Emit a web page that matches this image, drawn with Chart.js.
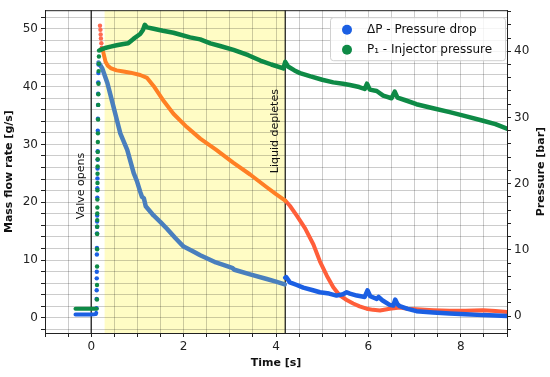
<!DOCTYPE html>
<html>
<head>
<meta charset="utf-8">
<script src="https://cdn.jsdelivr.net/npm/chart.js@4.4.0/dist/chart.umd.min.js"></script>
<style>
  html, body { margin: 0; padding: 0; background: #fff; }
  #chart { display: block; }
</style>
</head>
<body>
<canvas id="chart" width="550" height="377"></canvas>
<script>
// ticks (minor every 0.5 s / 2 units, labels on the major ones)
const timeTicks = [-1, -0.5, 0, 0.5, 1, 1.5, 2, 2.5, 3, 3.5, 4, 4.5, 5, 5.5, 6, 6.5, 7, 7.5, 8, 8.5, 9];
const timeLabels = [0, 2, 4, 6, 8];
const flowTicks = [-2, 0, 2, 4, 6, 8, 10, 12, 14, 16, 18, 20, 22, 24, 26, 28, 30, 32, 34, 36, 38, 40, 42, 44, 46, 48, 50, 52];
const flowLabels = [0, 10, 20, 30, 40, 50];
const pressureTicks = [-2, 0, 2, 4, 6, 8, 10, 12, 14, 16, 18, 20, 22, 24, 26, 28, 30, 32, 34, 36, 38, 40, 42, 44, 46];
const pressureLabels = [0, 10, 20, 30, 40];

// events
const eventTimes = [0, 4.2];
const eventLabels = ['Valve opens', 'Liquid depletes'];
const eventLabelY = [22.8, 32.3]; // where the rotated text sits, in g/s
const liquidStart = 0.29;
const liquidEnd = 4.2;

const seriesNames = ['ΔP - Pressure drop', 'P₁ - Injector pressure'];

// mass flow rate [g/s]
const flowDotT = [0.19, 0.20, 0.205, 0.21, 0.22, 0.23];
const flowDotV = [50.5, 49.8, 49.0, 48.3, 47.5, 46.7];
const flowT = [0.25, 0.31, 0.36, 0.42, 0.55, 0.70, 0.85, 1.06, 1.21, 1.35, 1.57, 1.78, 2.07, 2.36, 2.70, 3.08, 3.44, 3.80, 4.00, 4.20];
const flowV = [46.3, 44.3, 43.6, 43.2, 42.8, 42.6, 42.4, 42.0, 41.5, 40.1, 37.5, 35.3, 33.0, 31.0, 29.1, 26.8, 24.8, 22.6, 21.4, 20.3];
const flowLateT = [4.20, 4.30, 4.45, 4.63, 4.81, 4.95, 5.10, 5.24, 5.38, 5.53, 5.67, 5.81, 5.96, 6.10, 6.25, 6.46, 6.68, 6.85, 7.04, 7.40, 7.76, 8.10, 8.48, 8.75, 9.00];
const flowLateV = [20.3, 19.4, 17.7, 15.5, 12.7, 9.8, 7.3, 5.3, 3.9, 3.1, 2.5, 2.0, 1.6, 1.4, 1.3, 1.6, 1.8, 1.6, 1.5, 1.35, 1.25, 1.25, 1.35, 1.2, 1.05];

// pressure drop [bar]
const dpPreT = [-0.34, 0.00, 0.10, 0.11];
const dpPreV = [0.25, 0.25, 0.3, 0.5];
const dpDotT = [0.115, 0.117, 0.119, 0.12, 0.121, 0.123, 0.124, 0.126, 0.127, 0.128, 0.129, 0.132, 0.133, 0.135, 0.137, 0.139, 0.14, 0.143, 0.145, 0.148, 0.15, 0.153, 0.155, 0.158];
const dpDotV = [1.2, 2.6, 3.9, 5.7, 6.7, 9.3, 10.3, 12.5, 13.5, 14.3, 15.2, 17.9, 19.3, 20.8, 22.3, 23.6, 24.9, 28.0, 29.8, 31.9, 33.6, 35.3, 36.7, 38.0];
const dpT = [0.16, 0.24, 0.35, 0.45, 0.56, 0.63, 0.78, 0.92, 0.99, 1.06, 1.10, 1.14, 1.18, 1.35, 1.50, 1.64, 1.82, 2.00, 2.20, 2.36, 2.70, 3.05, 3.10, 3.44, 3.80, 4.00, 4.19];
const dpV = [38.3, 37.4, 35.2, 32.5, 29.5, 27.6, 25.1, 21.6, 20.4, 18.8, 18.0, 17.8, 16.6, 15.2, 14.2, 13.2, 11.8, 10.5, 9.8, 9.2, 8.1, 7.3, 7.0, 6.3, 5.6, 5.2, 4.8];
const dpLateT = [4.20, 4.22, 4.30, 4.45, 4.59, 4.80, 4.95, 5.15, 5.31, 5.45, 5.53, 5.60, 5.75, 5.92, 5.98, 6.04, 6.18, 6.22, 6.30, 6.46, 6.54, 6.58, 6.63, 6.68, 6.85, 7.04, 7.40, 7.76, 8.10, 8.48, 8.75, 9.00];
const dpLateV = [5.8, 5.9, 5.1, 4.7, 4.3, 3.9, 3.6, 3.4, 3.1, 3.3, 3.6, 3.4, 3.1, 2.9, 3.9, 3.0, 2.6, 2.9, 2.4, 1.7, 1.6, 2.5, 1.8, 1.5, 1.1, 0.75, 0.55, 0.4, 0.3, 0.15, 0.1, 0.0];

// injector pressure [bar]
const p1PreT = [-0.34, 0.00, 0.12];
const p1PreV = [1.1, 1.1, 1.1];
const p1DotT = [0.125, 0.126, 0.127, 0.128, 0.129, 0.13, 0.131, 0.132, 0.133, 0.134, 0.135, 0.136, 0.137, 0.139, 0.14, 0.142, 0.144, 0.146, 0.149, 0.152, 0.155, 0.158, 0.161, 0.164, 0.167, 0.17];
const p1DotV = [2.5, 4.7, 7.5, 10.1, 12.4, 13.5, 14.5, 15.5, 16.4, 17.6, 19.0, 20.1, 21.5, 22.6, 23.7, 24.8, 26.3, 27.6, 29.7, 31.9, 33.5, 35.1, 37.0, 38.1, 39.2, 40.1];
const p1T = [0.20, 0.30, 0.42, 0.55, 0.70, 0.80, 0.92, 1.06, 1.12, 1.16, 1.21, 1.35, 1.55, 1.78, 2.14, 2.36, 2.58, 2.79, 3.08, 3.40, 3.66, 3.90, 4.16, 4.20, 4.26, 4.40, 4.52, 4.75, 5.00, 5.24, 5.45, 5.60, 5.80, 5.92, 5.97, 6.03, 6.18, 6.32, 6.50, 6.57, 6.63, 6.80, 7.04, 7.40, 7.76, 8.10, 8.48, 8.75, 9.00];
const p1V = [40.2, 40.5, 40.7, 40.9, 41.1, 41.2, 41.9, 42.6, 43.2, 44.0, 43.6, 43.4, 43.1, 42.8, 42.1, 41.8, 41.2, 40.8, 40.2, 39.4, 38.6, 38.0, 37.4, 38.4, 37.7, 37.1, 36.7, 36.2, 35.7, 35.3, 35.1, 34.9, 34.6, 34.3, 35.1, 34.2, 34.0, 33.3, 32.9, 33.9, 33.0, 32.6, 32.0, 31.4, 30.8, 30.2, 29.5, 29.0, 28.3];

const GREEN = '#0e8a46';
const STEEL = '#4a7fbd';
const BLUE = '#1b5fe3';
const ORANGE = '#ff7f24';
const TOMATO = '#ff5e3a';
const SALMON = '#ff6a50';

function pts(ts, vs) {
    return ts.map((t, i) => ({ x: t, y: vs[i] }));
}

function dots(label, ts, vs, color, axis) {
    return {
        label: label, data: pts(ts, vs), yAxisID: axis, showLine: false,
        pointRadius: 2.2, pointBackgroundColor: color, pointBorderWidth: 0, borderColor: color
    };
}

function band(label, ts, vs, color, axis, width) {
    return {
        label: label, data: pts(ts, vs), yAxisID: axis, showLine: true,
        borderColor: color, borderWidth: width, pointRadius: 0, tension: 0,
        borderJoinStyle: 'round', borderCapStyle: 'round'
    };
}

// yellow span, event lines, legend, right title
const extras = {
    id: 'extras',
    beforeDraw(chart) {
        const { ctx, chartArea: a, scales: { x } } = chart;
        const x0 = x.getPixelForValue(liquidStart);
        const x1 = x.getPixelForValue(liquidEnd);
        ctx.save();
        ctx.fillStyle = 'rgba(255, 250, 150, 0.55)';
        ctx.fillRect(x0, a.top, x1 - x0, a.bottom - a.top);
        ctx.restore();
    },
    beforeDatasetsDraw(chart) {
        const { ctx, chartArea: a, scales: { x, y } } = chart;
        ctx.save();
        ctx.strokeStyle = '#111';
        ctx.lineWidth = 1.2;
        eventTimes.forEach((t, i) => {
            const px = x.getPixelForValue(t);
            ctx.beginPath();
            ctx.moveTo(px, a.top);
            ctx.lineTo(px, a.bottom);
            ctx.stroke();
            ctx.save();
            ctx.translate(px - 10, y.getPixelForValue(eventLabelY[i]));
            ctx.rotate(-Math.PI / 2);
            ctx.fillStyle = '#111';
            ctx.font = '11px "DejaVu Sans"';
            ctx.textAlign = 'center';
            ctx.textBaseline = 'middle';
            ctx.fillText(eventLabels[i], 0, 0);
            ctx.restore();
        });
        // top spine
        ctx.lineWidth = 1;
        ctx.strokeStyle = '#222';
        ctx.beginPath();
        ctx.moveTo(a.left, a.top + 0.5);
        ctx.lineTo(a.right, a.top + 0.5);
        ctx.stroke();
        ctx.restore();
    },
    afterDraw(chart) {
        const { ctx, chartArea: a } = chart;
        ctx.save();
        // legend frame
        const w = 175, h = 43;
        const lx = a.right - w - 2, ly = a.top + 7;
        ctx.fillStyle = 'rgba(255,255,255,0.8)';
        ctx.strokeStyle = '#d0d0d0';
        ctx.lineWidth = 1;
        ctx.beginPath();
        ctx.roundRect(lx + 0.5, ly + 0.5, w, h, 3);
        ctx.fill();
        ctx.stroke();
        ctx.font = '12px "DejaVu Sans"';
        ctx.textBaseline = 'middle';
        seriesNames.forEach((name, i) => {
            const ds = chart.data.datasets.find(d => d.label === name);
            const cy = ly + 12.5 + i * 20;
            ctx.fillStyle = ds.pointBackgroundColor;
            ctx.beginPath();
            ctx.arc(lx + 17, cy, 5, 0, Math.PI * 2);
            ctx.fill();
            ctx.fillStyle = '#111';
            ctx.fillText(name, lx + 37, cy);
        });
        // right axis title, read bottom to top
        ctx.translate(a.right + 34, (a.top + a.bottom) / 2);
        ctx.rotate(-Math.PI / 2);
        ctx.font = 'bold 11px "DejaVu Sans"';
        ctx.textAlign = 'center';
        ctx.fillStyle = '#111';
        ctx.fillText('Pressure [bar]', 0, 0);
        ctx.restore();
    }
};

Chart.defaults.font.family = '"DejaVu Sans"';
Chart.defaults.color = '#222';

const gridColor = 'rgba(0,0,0,0.2)';

new Chart(document.getElementById('chart'), {
    type: 'scatter',
    data: {
        datasets: [
            dots(seriesNames[1], p1DotT, p1DotV, GREEN, 'y1'),
            band('p1 before', p1PreT, p1PreV, GREEN, 'y1', 4),
            band('p1', p1T, p1V, GREEN, 'y1', 4.5),
            dots(seriesNames[0], dpDotT, dpDotV, BLUE, 'y1'),
            band('dp before', dpPreT, dpPreV, BLUE, 'y1', 4),
            band('dp liquid', dpT, dpV, STEEL, 'y1', 4.5),
            band('dp gas', dpLateT, dpLateV, BLUE, 'y1', 4.5),
            dots('flow start', flowDotT, flowDotV, SALMON, 'y'),
            band('flow liquid', flowT, flowV, ORANGE, 'y', 4),
            band('flow gas', flowLateT, flowLateV, TOMATO, 'y', 4)
        ]
    },
    options: {
        responsive: false,
        animation: false,
        devicePixelRatio: 1,
        layout: { padding: { top: 4, left: 0, right: 0, bottom: 0 } },
        plugins: { legend: { display: false }, tooltip: { enabled: false } },
        scales: {
            x: {
                type: 'linear', min: -1, max: 9, bounds: 'data',
                afterBuildTicks: s => { s.ticks = timeTicks.map(v => ({ value: v })); },
                afterFit: s => { s.height = 44; },
                ticks: {
                    autoSkip: false, maxRotation: 0, padding: 3, font: { size: 12 },
                    callback: v => timeLabels.includes(v) ? String(v) : ''
                },
                grid: { color: gridColor, tickColor: '#222', tickLength: 4 },
                border: { color: '#222', width: 1 },
                title: { display: true, text: 'Time [s]', color: '#111', font: { size: 11, weight: 'bold' }, padding: { top: 0, bottom: 7 } }
            },
            y: {
                type: 'linear', position: 'left', min: -2.6, max: 53.2, bounds: 'data',
                afterBuildTicks: s => { s.ticks = flowTicks.map(v => ({ value: v })); },
                afterFit: s => { s.width = 45; },
                ticks: {
                    autoSkip: false, padding: 3, font: { size: 12 },
                    callback: v => flowLabels.includes(v) ? String(v) : ''
                },
                grid: { color: gridColor, tickColor: '#222', tickLength: 4 },
                border: { color: '#222', width: 1 },
                title: { display: true, text: 'Mass flow rate [g/s]', color: '#111', font: { size: 11, weight: 'bold' }, padding: { top: 2.5, bottom: 0 } }
            },
            y1: {
                type: 'linear', position: 'right', min: -2.55, max: 46.2, bounds: 'data',
                afterBuildTicks: s => { s.ticks = pressureTicks.map(v => ({ value: v })); },
                afterFit: s => { s.width = 43; },
                ticks: {
                    autoSkip: false, padding: 3, font: { size: 12 },
                    callback: v => pressureLabels.includes(v) ? String(v) : ''
                },
                grid: { drawOnChartArea: false, tickColor: '#222', tickLength: 4 },
                border: { color: '#222', width: 1 }
            }
        }
    },
    plugins: [extras]
});
</script>
</body>
</html>
